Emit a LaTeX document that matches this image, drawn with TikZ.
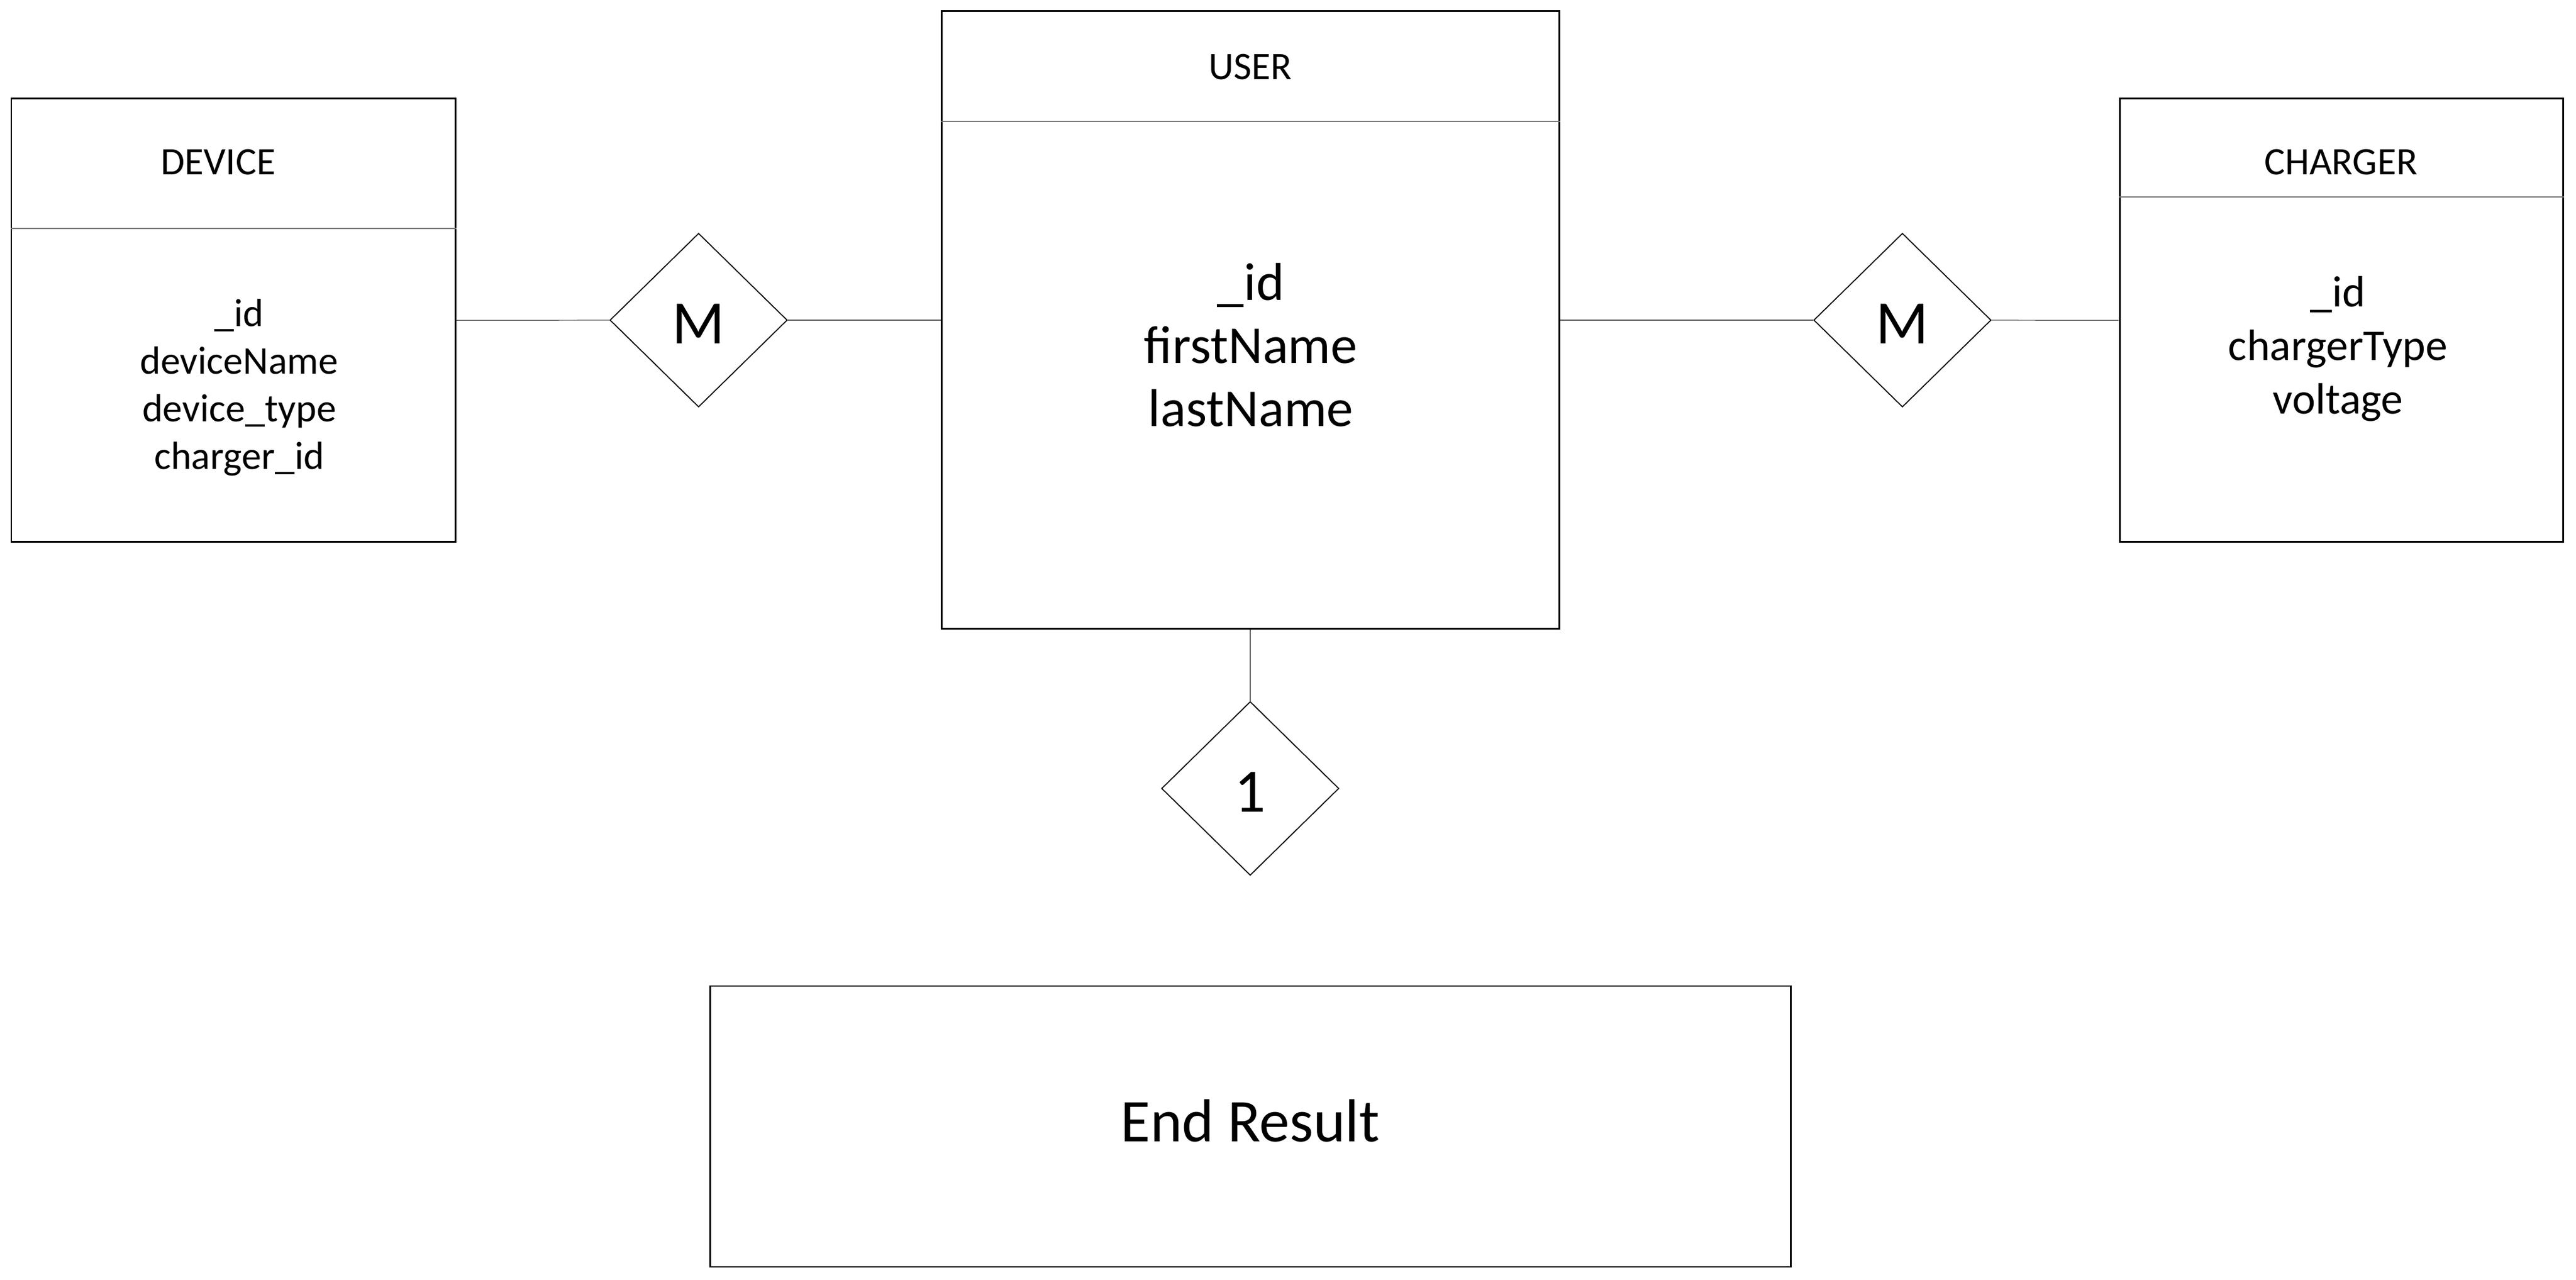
\documentclass[tikz,border=0pt]{standalone}
\usepackage{fontspec}
\setmainfont{Carlito}
\usepackage{tikz}
\usetikzlibrary{arrows,shapes,shapes.geometric,positioning}

\begin{document}
\begin{tikzpicture}[>=stealth',auto]

    \tikzstyle{entity}=[rectangle,draw=black,line width=0.85pt,inner sep=0pt]
    \tikzstyle{header}=[inner sep=0pt,font=\fontsize{18.6}{22.5}\selectfont]
    \tikzstyle{attrs}=[align=center,inner sep=0pt]
    \tikzstyle{divider}=[draw=black!55,line width=0.45pt]
    \tikzstyle{relation}=[diamond,draw=black,line width=0.5pt,inner sep=0pt,minimum width=2.98cm,minimum height=2.92cm,text height=0.8cm,text depth=0cm,font=\fontsize{29.5}{35}\selectfont]
    \tikzstyle{link}=[draw=black!65,line width=0.35pt]
    \tikzstyle{result}=[rectangle,draw=black,line width=0.85pt,minimum width=18.16cm,minimum height=4.72cm,text depth=0.2cm,font=\fontsize{29}{35}\selectfont]

    \useasboundingbox (0,0) rectangle (43.29,21.50);

    \begin{scope}
        % entities
        \node [entity,minimum width=7.46cm,minimum height=7.45cm] (device) at (3.92,16.115) {};
        \node [entity,minimum width=10.38cm,minimum height=10.38cm] (user) at (21.01,16.12) {};
        \node [entity,minimum width=7.45cm,minimum height=7.45cm] (charger) at (39.345,16.115) {};

        \draw [divider] (device.west |- 0,17.66) -- (device.east |- 0,17.66);
        \draw [divider] (user.west |- 0,19.46) -- (user.east |- 0,19.46);
        \draw [divider] (charger.west |- 0,18.19) -- (charger.east |- 0,18.19);

        \node [header] (devicet) at (3.67,18.77) {DEVICE};
        \node [header] (usert) at (21.01,20.37) {USER};
        \node [header] (chargert) at (39.34,18.77) {CHARGER};

        \node [attrs,font=\fontsize{18.8}{22.8}\selectfont] (devicea) at (4.02,14.99)
            {\_id\\deviceName\\device\_type\\charger\_id};
        \node [attrs,font=\fontsize{25.5}{30.2}\selectfont] (usera) at (21.02,15.70)
            {\_id\\firstName\\lastName};
        \node [attrs,font=\fontsize{21}{25.6}\selectfont] (chargera) at (39.29,15.64)
            {\_id\\chargerType\\voltage};

        % relations
        \node [relation] (rdevice) at (11.74,16.12) {M}
            edge [link] (device)
            edge [link] (user);
        \node [relation] (rcharger) at (31.97,16.12) {M}
            edge [link] (user)
            edge [link] (charger);
        \node [relation] (rresult) at (21.01,8.25) {1}
            edge [link] (user);

        \node [result] (endres) at (21.01,2.57) {End Result};
    \end{scope}
\end{tikzpicture}
\end{document}
